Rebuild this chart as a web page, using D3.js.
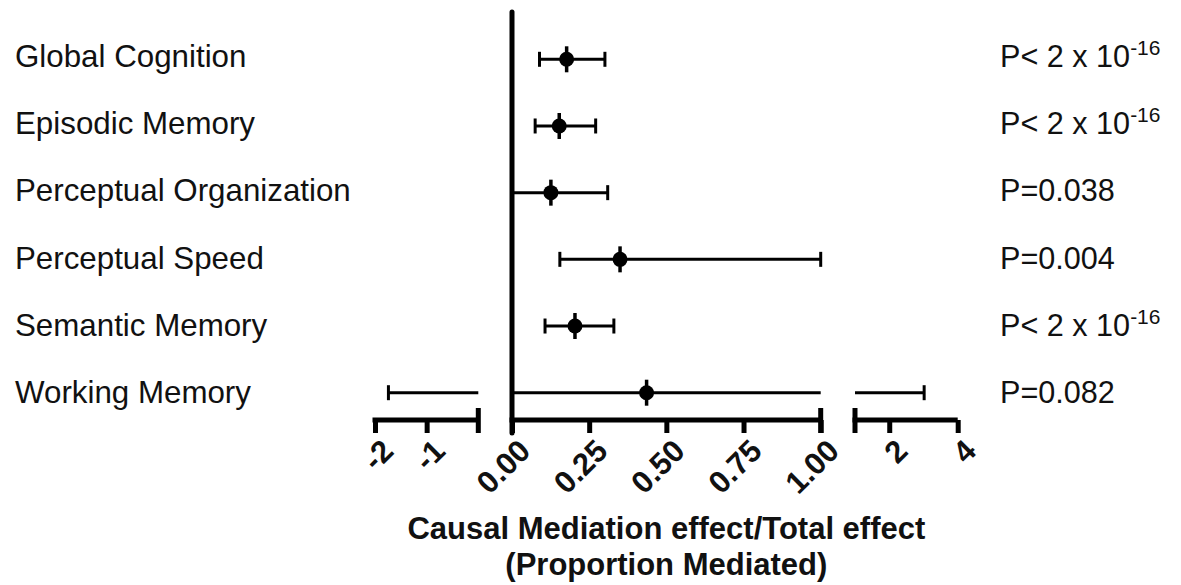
<!DOCTYPE html>
<html>
<head>
<meta charset="utf-8">
<script src="https://cdn.jsdelivr.net/npm/d3@7"></script>
<style>
  html, body { margin: 0; padding: 0; background: #fff; }
  svg { display: block; }
  text { font-family: "Liberation Sans", Arial, Helvetica, sans-serif; fill: #111; }
</style>
</head>
<body>
<svg id="chart" width="1181" height="585"></svg>
<script>
// ---- data ----
const categories = ["Global Cognition", "Episodic Memory", "Perceptual Organization",
                    "Perceptual Speed", "Semantic Memory", "Working Memory"];
const estimates = [0.177, 0.153, 0.126, 0.350, 0.204, 0.436];
const lowers    = [0.089, 0.075, 0.000, 0.155, 0.107, -1.74];
const uppers    = [0.301, 0.271, 0.310, 1.000, 0.330, 3.02];
const pBase     = ["P< 2 x 10", "P< 2 x 10", "P=0.038", "P=0.004", "P< 2 x 10", "P=0.082"];
const pExp      = ["-16", "-16", "", "", "-16", ""];
const ticksLeft  = [-2, -1];
const ticksMid   = [0, 0.25, 0.50, 0.75, 1.00];
const ticksRight = [2, 4];
const titleLines = ["Causal Mediation effect/Total effect", "(Proportion Mediated)"];

// ---- layout ----
const svg = d3.select("#chart");
const axisY = 420;
const xL = d3.scaleLinear([-2, 0], [375, 478.3]);
const xM = d3.scaleLinear([0, 1], [512, 820.7]);
const xR = d3.scaleLinear([1, 4], [855, 957.7]);
const y = d3.scalePoint(categories, [59.3, 392.7]);
const yLab = d3.scalePoint(categories, [67, 403]);
const lookup = [xM, xL, xR];   // order of preference when a value sits on a break
const segOf = v => lookup.find(s => v >= s.domain()[0] && v <= s.domain()[1]);
const hyphen = f => v => f(v).replace("\u2212", "-");

// ---- axes ----
function drawAxis(scale, ticks, fmt) {
  const g = svg.append("g").attr("transform", `translate(0,${axisY})`)
    .call(d3.axisBottom(scale).tickValues(ticks).tickFormat(fmt)
      .tickSize(13).tickSizeOuter(0).tickPadding(0));
  g.select(".domain").attr("stroke", "#000").attr("stroke-width", 5)
    .attr("d", `M${scale.range()[0] - 2.5},0H${scale.range()[1]}`);
  g.selectAll(".tick line").attr("stroke", "#000").attr("stroke-width", 5).attr("y1", 0);
  g.selectAll(".tick text")
    .attr("x", 0).attr("y", 0).attr("dy", "0.72em")
    .attr("transform", "translate(4,17) rotate(-45)")
    .attr("text-anchor", "end")
    .style("font-size", "31px").style("font-weight", "bold")
    .style("font-family", "'Liberation Sans', Arial, sans-serif").attr("fill", "#111");
  return g;
}
drawAxis(xL, ticksLeft, hyphen(d3.format("d")));
drawAxis(xM, ticksMid, d3.format(".2f"));
drawAxis(xR, ticksRight, hyphen(d3.format("d")));

// break marks at the inner ends of each segment
[xL(0), xM(1), xR(1)].forEach(x => {
  svg.append("line").attr("x1", x).attr("x2", x)
    .attr("y1", axisY - 12).attr("y2", axisY + 13)
    .attr("stroke", "#000").attr("stroke-width", 5);
});

// vertical axis at zero
svg.append("line").attr("x1", xM(0)).attr("x2", xM(0))
  .attr("y1", 12).attr("y2", axisY + 13)
  .attr("stroke", "#000").attr("stroke-width", 5).attr("stroke-linecap", "round");

// ---- error bars ----
const bars = svg.append("g");
categories.forEach((c, i) => {
  const lo = lowers[i], hi = uppers[i], est = estimates[i], yy = y(c);
  [xL, xM, xR].forEach(s => {
    const [d0, d1] = s.domain();
    const a = Math.max(lo, d0), b = Math.min(hi, d1);
    if (b > a) {
      bars.append("line").attr("x1", s(a)).attr("x2", s(b))
        .attr("y1", yy).attr("y2", yy)
        .attr("stroke", "#000").attr("stroke-width", 3);
    }
  });
  [lo, hi].forEach(v => {
    const s = segOf(v);
    bars.append("line").attr("x1", s(v)).attr("x2", s(v))
      .attr("y1", yy - 7.5).attr("y2", yy + 7.5)
      .attr("stroke", "#000").attr("stroke-width", 3);
  });
  const s = segOf(est);
  bars.append("line").attr("x1", s(est)).attr("x2", s(est))
    .attr("y1", yy - 13).attr("y2", yy + 13)
    .attr("stroke", "#000").attr("stroke-width", 3.5);
  bars.append("circle").attr("cx", s(est)).attr("cy", yy).attr("r", 7.5).attr("fill", "#000");
});

// ---- category labels ----
svg.append("g").selectAll("text").data(categories).join("text")
  .attr("x", 15).attr("y", d => yLab(d))
  .style("font-size", "31.3px")
  .text(d => d);

// ---- p-values ----
const pg = svg.append("g");
categories.forEach((c, i) => {
  const t = pg.append("text").attr("x", 1000).attr("y", yLab(c)).style("font-size", "30.6px");
  t.append("tspan").text(pBase[i]);
  if (pExp[i]) {
    t.append("tspan").attr("dy", -12).style("font-size", "21px").text(pExp[i]);
  }
});

// ---- axis title ----
const cx = (xL.range()[0] + xR.range()[1]) / 2;
svg.append("g").selectAll("text").data(titleLines).join("text")
  .attr("x", cx).attr("y", (d, i) => 539 + i * 36)
  .attr("text-anchor", "middle")
  .style("font-size", "31px").style("font-weight", "bold")
  .text(d => d);
</script>
</body>
</html>
